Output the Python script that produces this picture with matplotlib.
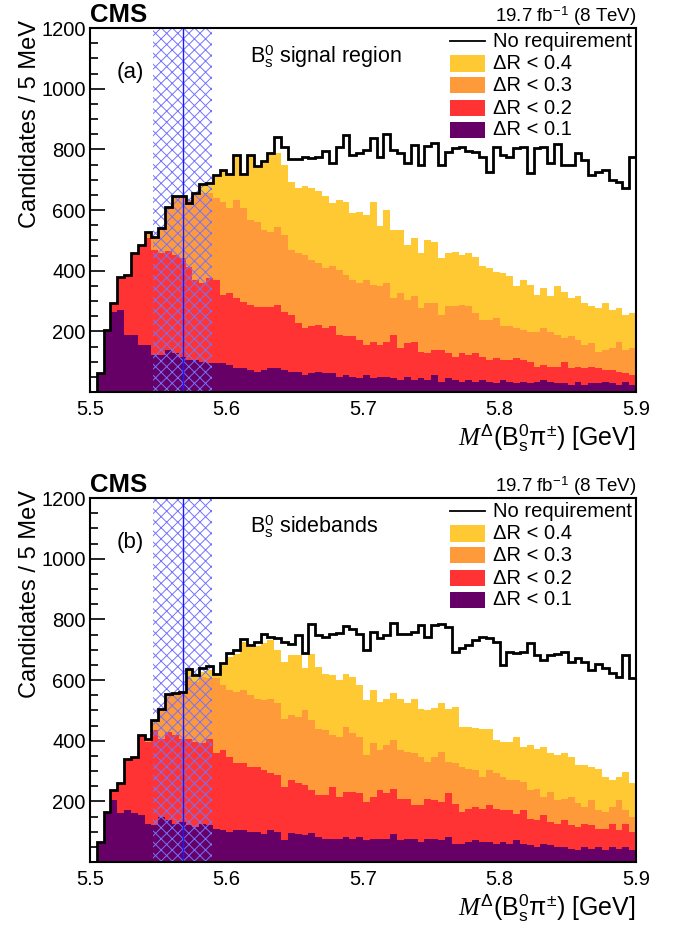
import numpy as np
import matplotlib
matplotlib.use("Agg")
import matplotlib.pyplot as plt
from matplotlib.patches import Rectangle
from matplotlib.lines import Line2D
from matplotlib.ticker import MultipleLocator, FixedLocator

plt.rcParams['font.family'] = ['Liberation Sans', 'DejaVu Sans']
plt.rcParams['mathtext.fontset'] = 'custom'
plt.rcParams['mathtext.rm'] = 'Liberation Sans'
plt.rcParams['mathtext.it'] = 'Liberation Serif:italic'
plt.rcParams['mathtext.bf'] = 'Liberation Sans:bold'
plt.rcParams['mathtext.sf'] = 'Liberation Sans'
plt.rcParams['hatch.linewidth'] = 0.7

# 5 MeV bins from 5.5 to 5.9 GeV
edges = np.linspace(5.5, 5.9, 81)

# X(5568) mass and width band
x_mass = 5.5678
x_width = 0.0219

# panel (a): Bs0 signal region
none_a = [0, 62, 204, 295, 380, 386, 457, 483, 527, 512, 540,
          611, 646, 646, 624, 655, 686, 690, 716, 732, 719,
          781, 719, 781, 745, 760, 789, 840, 809, 767, 767,
          776, 770, 776, 796, 756, 809, 847, 781, 787, 798,
          836, 776, 850, 798, 789, 754, 814, 748, 811, 822,
          748, 792, 803, 809, 796, 792, 776, 726, 809, 781,
          776, 803, 809, 723, 803, 809, 754, 818, 748, 748,
          787, 765, 715, 726, 732, 699, 693, 671, 776]
dr04_a = [0, 62, 204, 295, 380, 386, 457, 483, 527, 512, 540,
          611, 646, 646, 624, 655, 683, 686, 711, 727, 716,
          777, 716, 777, 738, 755, 789, 789, 749, 691, 672,
          678, 672, 661, 645, 623, 634, 628, 590, 595, 584,
          625, 546, 601, 535, 535, 485, 507, 458, 502, 496,
          441, 458, 463, 452, 458, 444, 414, 408, 397, 392,
          381, 348, 370, 353, 320, 342, 315, 348, 331, 309,
          315, 293, 282, 276, 293, 271, 276, 254, 260]
dr03_a = [0, 62, 204, 295, 380, 386, 457, 483, 527, 512, 540,
          611, 644, 644, 633, 650, 655, 655, 639, 628, 606,
          634, 606, 567, 562, 534, 529, 545, 518, 468, 458,
          452, 436, 425, 408, 414, 403, 386, 370, 359, 370,
          353, 348, 359, 309, 326, 304, 315, 276, 293, 293,
          254, 282, 282, 287, 282, 260, 238, 238, 243, 216,
          216, 210, 205, 199, 199, 210, 199, 188, 177, 183,
          172, 155, 161, 133, 139, 144, 166, 139, 144]
dr02_a = [0, 62, 204, 295, 380, 386, 457, 483, 507, 468, 457,
          465, 452, 441, 413, 369, 358, 375, 369, 320, 325,
          309, 298, 287, 281, 281, 281, 287, 265, 254, 226,
          210, 216, 221, 210, 216, 188, 183, 183, 172, 155,
          166, 155, 166, 188, 144, 161, 166, 133, 128, 139,
          139, 128, 117, 128, 122, 128, 117, 106, 111, 106,
          106, 111, 106, 100, 84, 89, 84, 84, 100, 78,
          84, 78, 84, 78, 73, 73, 67, 62, 56]
dr01_a = [0, 62, 204, 265, 270, 188, 188, 155, 155, 122, 122,
          139, 128, 117, 106, 106, 100, 95, 95, 95, 89,
          78, 78, 73, 67, 73, 78, 78, 73, 67, 67,
          56, 62, 67, 62, 62, 51, 56, 51, 45, 56,
          45, 51, 51, 45, 40, 51, 40, 45, 40, 56,
          34, 45, 40, 34, 40, 34, 40, 34, 29, 40,
          34, 29, 34, 29, 34, 40, 34, 29, 29, 23,
          34, 23, 29, 29, 34, 29, 23, 34, 23]

# panel (b): Bs0 sidebands
none_b = [0, 66, 165, 236, 261, 341, 347, 418, 407, 468, 503,
          553, 557, 561, 635, 616, 638, 646, 619, 656, 689,
          698, 734, 714, 725, 751, 742, 737, 725, 720, 748,
          689, 786, 748, 742, 753, 756, 778, 767, 753, 700,
          759, 737, 748, 788, 753, 753, 759, 781, 742, 781,
          784, 775, 693, 704, 715, 731, 742, 737, 726, 649,
          693, 690, 693, 722, 682, 665, 682, 685, 693, 660,
          671, 660, 633, 652, 638, 622, 611, 682, 605]
dr04_b = [0, 66, 165, 236, 261, 341, 347, 418, 407, 468, 503,
          553, 557, 561, 635, 611, 627, 633, 619, 655, 677,
          685, 726, 710, 712, 721, 732, 700, 660, 682, 682,
          638, 687, 643, 621, 616, 600, 621, 610, 583, 534,
          567, 528, 539, 556, 539, 523, 536, 506, 501, 509,
          523, 506, 512, 446, 446, 443, 440, 440, 402, 396,
          396, 413, 380, 385, 374, 380, 358, 352, 358, 347,
          319, 319, 314, 308, 281, 270, 281, 297, 259]
dr03_b = [0, 66, 165, 236, 261, 341, 347, 418, 402, 468, 503,
          553, 555, 561, 605, 594, 611, 605, 605, 583, 566,
          561, 566, 550, 539, 533, 539, 523, 473, 484, 479,
          501, 468, 440, 435, 418, 413, 446, 424, 413, 352,
          391, 369, 385, 402, 369, 363, 358, 347, 330, 347,
          363, 330, 325, 314, 308, 303, 281, 303, 292, 281,
          270, 270, 264, 237, 242, 215, 231, 204, 209, 215,
          193, 182, 204, 171, 165, 182, 204, 171, 150]
dr02_b = [0, 66, 165, 236, 261, 341, 347, 418, 396, 434, 407,
          429, 418, 407, 407, 396, 391, 407, 358, 369, 347,
          325, 325, 314, 314, 303, 292, 286, 248, 270, 259,
          253, 237, 220, 220, 248, 215, 231, 231, 226, 198,
          215, 237, 226, 242, 209, 209, 187, 187, 209, 204,
          198, 226, 192, 165, 176, 181, 176, 187, 176, 170,
          170, 159, 170, 143, 137, 154, 132, 126, 137, 121,
          115, 126, 121, 110, 110, 126, 104, 126, 99]
dr01_b = [0, 66, 165, 204, 162, 170, 160, 154, 126, 121, 148,
          137, 126, 132, 121, 115, 126, 121, 110, 104, 99,
          104, 104, 99, 99, 93, 104, 99, 71, 95, 93,
          88, 95, 82, 77, 77, 77, 82, 77, 84, 71,
          77, 77, 77, 93, 71, 77, 77, 66, 77, 77,
          71, 82, 60, 60, 66, 71, 66, 66, 60, 66,
          60, 71, 60, 55, 49, 60, 55, 49, 49, 44,
          38, 49, 44, 49, 38, 49, 44, 49, 38]

fill_labels = ["\u0394R < 0.4", "\u0394R < 0.3", "\u0394R < 0.2", "\u0394R < 0.1"]
fill_colors = ["#ffc933", "#ff9a3a", "#ff3333", "#660066"]
hatch_color = "#7373ff"


def draw_panel(ax, none, fills, tag, region):
    for vals, col in zip(fills, fill_colors):
        ax.stairs(vals, edges, fill=True, color=col, lw=0, zorder=2)

    ax.axvspan(x_mass - x_width, x_mass + x_width, facecolor="none",
               edgecolor=hatch_color, hatch="xxx", lw=0, zorder=3)
    ax.axvline(x_mass, color="#1a1aff", lw=1.0, zorder=4)
    ax.stairs(none, edges, color="black", lw=2.0, zorder=5)

    ax.set_xlim(5.5, 5.9)
    ax.set_ylim(0, 1200)
    ax.xaxis.set_major_locator(MultipleLocator(0.1))
    ax.xaxis.set_minor_locator(MultipleLocator(0.02))
    ax.yaxis.set_major_locator(FixedLocator([200, 400, 600, 800, 1000, 1200]))
    ax.yaxis.set_minor_locator(MultipleLocator(50))
    ax.xaxis.set_major_formatter(plt.FuncFormatter(lambda v, p: f"{v:.1f}"))
    ax.tick_params(axis="both", which="both", direction="in", top=False, right=False,
                   labelsize=14.5, width=1.2)
    ax.tick_params(axis="y", which="major", length=11, pad=3)
    ax.tick_params(axis="y", which="minor", length=5.5)
    ax.tick_params(axis="x", which="major", length=8, pad=6)
    ax.tick_params(axis="x", which="minor", length=4)
    for s in ax.spines.values():
        s.set_linewidth(1.5)
        s.set_zorder(6)

    tr = ax.transAxes
    ax.text(-0.11, 1.022, "Candidates / 5 MeV", transform=tr, rotation=90,
            ha="center", va="top", fontsize=17)
    ax.text(1.0, -0.146, r"$M^{\Delta}$(B$^{0}_{\mathrm{s}}$$\mathrm{\pi}^{\pm}$) [GeV]",
            transform=tr, ha="right", va="baseline", fontsize=18)
    ax.text(0.0, 1.017, "CMS", transform=tr, ha="left", va="baseline",
            fontsize=18.5, fontweight="bold")
    ax.text(1.0, 1.017, r"19.7 fb$^{-1}$ (8 TeV)", transform=tr, ha="right",
            va="baseline", fontsize=13.5)
    ax.text(0.049, 0.879, tag, transform=tr, ha="left", va="center", fontsize=16)
    ax.text(0.293, 0.904, region, transform=tr, ha="left", va="baseline", fontsize=15.5)

    # legend
    x0, x1 = 0.659, 0.723
    ax.add_line(Line2D([x0, x1], [0.964, 0.964], transform=tr, color="black", lw=1.3,
                       zorder=7))
    ax.text(0.738, 0.964, "No requirement", transform=tr, ha="left", va="center",
            fontsize=14.5, zorder=7)
    rows = [0.9025, 0.8434, 0.7802, 0.7198]
    for yc, lab, col in zip(rows, fill_labels, fill_colors):
        ax.add_patch(Rectangle((x0, yc - 0.0228), x1 - x0, 0.0456, transform=tr,
                               facecolor=col, edgecolor="none", zorder=7))
        ax.text(0.738, yc, lab, transform=tr, ha="left", va="center",
                fontsize=14.5, zorder=7)


fig = plt.figure(figsize=(6.78, 9.25), dpi=100)
ax_a = fig.add_axes([90 / 678, 1 - 392 / 925, 546 / 678, 364 / 925])
ax_b = fig.add_axes([90 / 678, 1 - 862 / 925, 546 / 678, 364 / 925])

draw_panel(ax_a, none_a, [dr04_a, dr03_a, dr02_a, dr01_a], "(a)",
           r"B$^{0}_{\mathrm{s}}$ signal region")
draw_panel(ax_b, none_b, [dr04_b, dr03_b, dr02_b, dr01_b], "(b)",
           r"B$^{0}_{\mathrm{s}}$ sidebands")

fig.savefig("out.png", dpi=100)
